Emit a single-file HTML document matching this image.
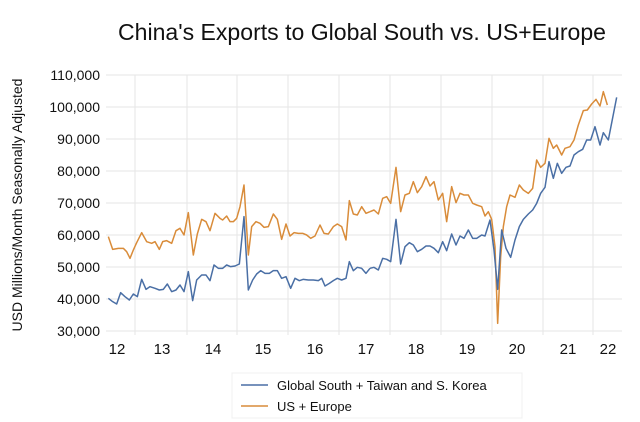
<!DOCTYPE html>
<html><head><meta charset="utf-8"><style>
body{margin:0;background:#fff;}
svg{display:block;font-family:"Liberation Sans",sans-serif;}
</style></head><body>
<svg width="640" height="422" viewBox="0 0 640 422" xmlns="http://www.w3.org/2000/svg">
<text x="362" y="40" font-size="23" text-anchor="middle" fill="#111" textLength="488" lengthAdjust="spacingAndGlyphs">China's Exports to Global South vs. US+Europe</text>
<g stroke="#e6e6e6" stroke-width="1">
<line x1="106" x2="622" y1="75" y2="75"/><line x1="106" x2="622" y1="107" y2="107"/>
<line x1="106" x2="622" y1="139" y2="139"/><line x1="106" x2="622" y1="171" y2="171"/>
<line x1="106" x2="622" y1="203" y2="203"/><line x1="106" x2="622" y1="235" y2="235"/>
<line x1="106" x2="622" y1="267" y2="267"/><line x1="106" x2="622" y1="299" y2="299"/>
<line x1="106" x2="622" y1="331" y2="331"/>
<line x1="135" x2="135" y1="75" y2="335"/><line x1="187" x2="187" y1="75" y2="335"/>
<line x1="237" x2="237" y1="75" y2="335"/><line x1="288" x2="288" y1="75" y2="335"/>
<line x1="339" x2="339" y1="75" y2="335"/><line x1="390" x2="390" y1="75" y2="335"/>
<line x1="441" x2="441" y1="75" y2="335"/><line x1="492" x2="492" y1="75" y2="335"/>
<line x1="543" x2="543" y1="75" y2="335"/><line x1="593" x2="593" y1="75" y2="335"/>
</g>
<g font-size="14" fill="#111" text-anchor="end">
<text x="100" y="80">110,000</text><text x="100" y="112">100,000</text>
<text x="100" y="144">90,000</text><text x="100" y="176">80,000</text>
<text x="100" y="208">70,000</text><text x="100" y="240">60,000</text>
<text x="100" y="272">50,000</text><text x="100" y="304">40,000</text>
<text x="100" y="336">30,000</text>
</g>
<g font-size="15" fill="#111" text-anchor="middle">
<text x="117" y="354">12</text><text x="162" y="354">13</text><text x="213" y="354">14</text>
<text x="263" y="354">15</text><text x="315" y="354">16</text><text x="366" y="354">17</text>
<text x="416" y="354">18</text><text x="467" y="354">19</text><text x="517" y="354">20</text>
<text x="568" y="354">21</text><text x="608" y="354">22</text>
</g>
<text transform="translate(22,205) rotate(-90)" font-size="14" text-anchor="middle" fill="#111">USD Millions/Month Seasonally Adjusted</text>
<g fill="none" stroke-width="1.5" stroke-linejoin="round">
<g transform="translate(100,60) scale(0.33333)">
<polyline vector-effect="non-scaling-stroke" stroke="#d98c3a" points="25,530 38,568 55,565 70,565 80,575 90,595 100,570 110,548 125,518 140,545 155,550 165,545 178,568 188,545 200,542 215,550 228,512 240,505 252,525 265,458 280,585 292,522 305,478 318,485 330,512 345,460 360,475 368,480 380,468 390,485 400,485 410,475 420,440 432,375 445,585 455,500 468,485 480,490 492,502 505,500 520,462 532,478 545,538 558,492 570,528 582,518 595,520 608,520 620,525 632,535 645,528 660,495 672,520 685,522 700,500 712,492 725,500 738,540 748,422 760,462 772,465 785,440 798,460 810,455"/>
<polyline vector-effect="non-scaling-stroke" stroke="#4a6fa5" points="25,715 38,725 50,732 62,698 75,710 88,720 100,702 112,710 125,658 138,688 150,680 165,685 178,690 190,688 202,672 215,695 228,690 240,675 252,695 265,635 278,722 290,660 305,645 318,645 330,662 342,615 355,625 368,625 380,615 392,620 405,618 418,612 432,470 445,690 458,660 470,642 482,632 495,640 508,640 520,632 532,632 545,655 558,650 572,685 585,655 598,662 610,658 625,660 640,660 655,662 665,655 675,678 688,670 700,662 712,655 725,660 738,655 748,605 760,632 772,622 785,625 798,640 810,625"/>
</g>
<g transform="translate(370,60) scale(0.33333)">
<polyline vector-effect="non-scaling-stroke" stroke="#d98c3a" points="0,455 12,450 25,462 38,415 50,410 62,430 78,322 92,455 105,405 118,400 130,365 142,398 155,380 168,350 180,378 192,365 205,420 218,400 230,485 245,380 258,428 270,400 282,405 295,405 308,430 320,435 335,440 345,468 355,455 365,478 375,560 383,790 392,590 400,500 410,440 420,405 435,412 448,375 460,390 475,400 488,385 500,300 512,322 525,310 537,235 550,265 560,255 575,285 585,265 600,260 612,240 625,195 640,152 652,150 665,132 678,118 690,138 700,95 712,135"/>
<polyline vector-effect="non-scaling-stroke" stroke="#4a6fa5" points="0,625 12,622 25,630 38,595 50,598 62,605 78,478 92,612 105,560 118,548 130,555 142,575 155,568 168,558 180,558 192,565 205,578 218,545 230,572 245,522 258,555 270,528 282,535 295,510 308,535 320,535 335,525 345,528 360,480 372,570 383,688 395,510 408,565 422,592 435,540 448,500 460,478 475,462 488,450 500,430 512,400 525,382 537,305 550,355 562,310 575,340 588,322 600,318 612,285 625,275 638,268 650,240 662,240 675,200 690,255 700,218 715,240 740,112"/>
</g>
</g>
<rect x="232" y="373" width="290" height="45" fill="none" stroke="#f0f0f0"/>
<line x1="241" x2="268" y1="385" y2="385" stroke="#4a6fa5" stroke-width="1.5"/>
<line x1="241" x2="268" y1="406" y2="406" stroke="#d98c3a" stroke-width="1.5"/>
<g font-size="13" fill="#111">
<text x="277" y="390">Global South + Taiwan and S. Korea</text>
<text x="277" y="411">US + Europe</text>
</g>
</svg>
</body></html>
